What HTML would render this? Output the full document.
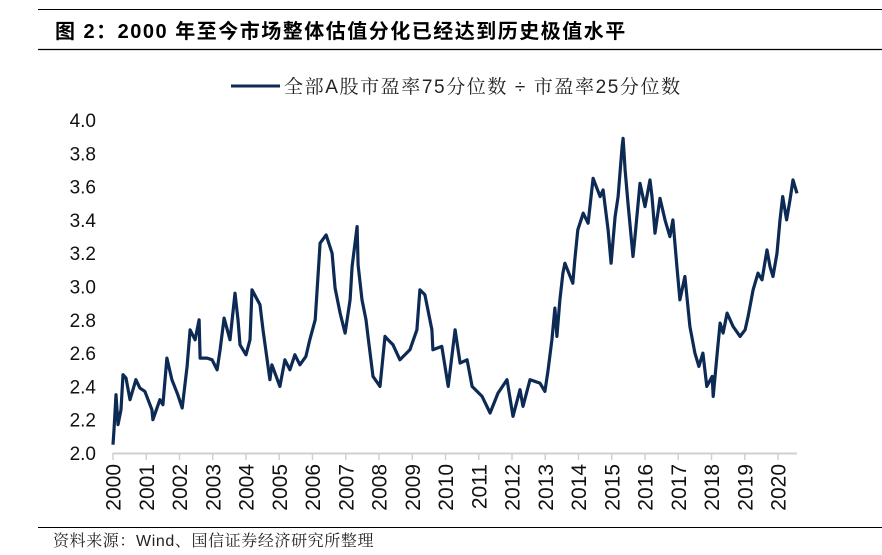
<!DOCTYPE html>
<html><head><meta charset="utf-8"><style>
body{margin:0;background:#fff;width:882px;height:550px;overflow:hidden;font-family:"Liberation Sans","Noto Sans CJK SC",sans-serif}
</style></head><body>
<svg width="882" height="550" xmlns="http://www.w3.org/2000/svg">
<line x1="38" y1="9.5" x2="882" y2="9.5" stroke="#000" stroke-width="1"/>
<text x="55" y="38" font-size="20" font-weight="bold" letter-spacing="1.5" font-family="Liberation Sans,Noto Sans CJK SC,sans-serif">图 2：2000 年至今市场整体估值分化已经达到历史极值水平</text>
<line x1="38" y1="49.5" x2="882" y2="49.5" stroke="#000" stroke-width="1.2"/>
<g>
<line x1="231" y1="86" x2="280" y2="86" stroke="#0d2a55" stroke-width="3"/>
<text x="284" y="93" font-size="19" letter-spacing="1.6" fill="#222" font-family="Liberation Sans,Noto Serif CJK SC,sans-serif">全部A股市盈率75分位数 ÷ 市盈率25分位数</text>
</g>
<g id="yaxis"></g>
<g id="xaxis"></g>
<path id="series" fill="none" stroke="#0d2a55" stroke-width="3.2" stroke-linejoin="round"/>
<line x1="38" y1="527.5" x2="882" y2="527.5" stroke="#000" stroke-width="1"/>
<text x="53" y="546" font-size="16" letter-spacing="0.6" fill="#222" font-family="Liberation Serif,Noto Serif CJK SC,serif">资料来源：<tspan font-family="Liberation Sans,sans-serif">Wind</tspan>、国信证券经济研究所整理</text>
</svg>
<script>
const years=[0.00,0.03,0.09,0.15,0.24,0.30,0.39,0.51,0.69,0.81,0.96,1.17,1.20,1.41,1.50,1.62,1.77,1.95,2.08,2.23,2.32,2.47,2.59,2.62,2.83,2.98,3.13,3.22,3.34,3.52,3.67,3.76,3.82,4.00,4.12,4.18,4.42,4.51,4.72,4.78,5.02,5.17,5.32,5.47,5.62,5.80,5.92,6.08,6.23,6.41,6.59,6.68,6.83,6.98,7.13,7.19,7.34,7.37,7.49,7.61,7.67,7.82,8.03,8.18,8.27,8.42,8.63,8.93,9.14,9.23,9.38,9.59,9.62,9.89,10.08,10.29,10.44,10.65,10.80,11.10,11.34,11.58,11.85,12.03,12.24,12.33,12.54,12.84,12.99,13.08,13.20,13.29,13.35,13.44,13.53,13.59,13.83,13.89,13.98,14.14,14.29,14.44,14.65,14.74,14.89,14.98,15.10,15.19,15.31,15.34,15.40,15.49,15.64,15.70,15.85,16.00,16.15,16.21,16.30,16.45,16.60,16.75,16.84,16.96,17.05,17.20,17.35,17.50,17.62,17.74,17.86,18.02,18.05,18.17,18.26,18.35,18.47,18.65,18.86,19.01,19.10,19.25,19.40,19.52,19.67,19.76,19.85,19.97,20.06,20.14,20.26,20.36,20.45,20.57];
const values=[2.05,2.14,2.35,2.17,2.26,2.47,2.45,2.32,2.44,2.39,2.37,2.26,2.20,2.32,2.29,2.57,2.44,2.35,2.27,2.52,2.74,2.68,2.80,2.57,2.57,2.56,2.50,2.62,2.81,2.68,2.96,2.80,2.65,2.59,2.68,2.98,2.89,2.74,2.44,2.53,2.40,2.56,2.50,2.59,2.53,2.58,2.68,2.80,3.26,3.31,3.20,2.99,2.84,2.72,2.92,3.12,3.36,3.13,2.92,2.80,2.70,2.46,2.40,2.70,2.68,2.65,2.56,2.62,2.74,2.98,2.95,2.74,2.62,2.64,2.40,2.74,2.54,2.56,2.40,2.34,2.24,2.36,2.44,2.22,2.38,2.28,2.44,2.42,2.37,2.49,2.68,2.87,2.70,2.92,3.08,3.14,3.02,3.16,3.34,3.44,3.38,3.65,3.54,3.58,3.34,3.14,3.42,3.54,3.84,3.89,3.70,3.50,3.18,3.30,3.62,3.48,3.64,3.54,3.32,3.53,3.40,3.30,3.40,3.12,2.92,3.06,2.76,2.60,2.52,2.60,2.40,2.46,2.34,2.60,2.78,2.72,2.84,2.76,2.70,2.74,2.82,2.98,3.08,3.04,3.22,3.12,3.06,3.20,3.40,3.54,3.40,3.52,3.64,3.56];
const yTicks=["2.0","2.2","2.4","2.6","2.8","3.0","3.2","3.4","3.6","3.8","4.0"];
const xTicks=["2000","2001","2002","2003","2004","2005","2006","2007","2008","2009","2010","2011","2012","2013","2014","2015","2016","2017","2018","2019","2020"];
const NS="http://www.w3.org/2000/svg";
const xs=t=>113+33.25*t;
const ys=v=>453-(v-2)*166.5;
const ya=document.getElementById('yaxis'),xa=document.getElementById('xaxis');
yTicks.forEach(l=>{const t=document.createElementNS(NS,'text');


t.setAttribute('x',96);t.setAttribute('y',ys(+l)+7);t.setAttribute('text-anchor','end');t.setAttribute('font-size','19');t.setAttribute('fill','#111');t.textContent=l;ya.appendChild(t);});
const base=document.createElementNS(NS,'line');


base.setAttribute('x1',113);base.setAttribute('x2',797);base.setAttribute('y1',453.5);base.setAttribute('y2',453.5);base.setAttribute('stroke','#d0d0d0');base.setAttribute('stroke-width','2');xa.appendChild(base);
xTicks.forEach((l,i)=>{const x=xs(i);
const tk=document.createElementNS(NS,'line');


tk.setAttribute('x1',x);tk.setAttribute('x2',x);tk.setAttribute('y1',453);tk.setAttribute('y2',460);tk.setAttribute('stroke','#d0d0d0');tk.setAttribute('stroke-width','1.5');xa.appendChild(tk);
const t=document.createElementNS(NS,'text');


t.setAttribute('transform','translate('+(x+7.5)+',464) rotate(-90)');t.setAttribute('text-anchor','end');t.setAttribute('font-size','21');t.setAttribute('fill','#111');t.textContent=l;xa.appendChild(t);});
document.getElementById('series').setAttribute('d',years.map((t,i)=>(i?'L':'M')+xs(t).toFixed(1)+','+ys(values[i]).toFixed(1)).join(''));
</script>
</body></html>
